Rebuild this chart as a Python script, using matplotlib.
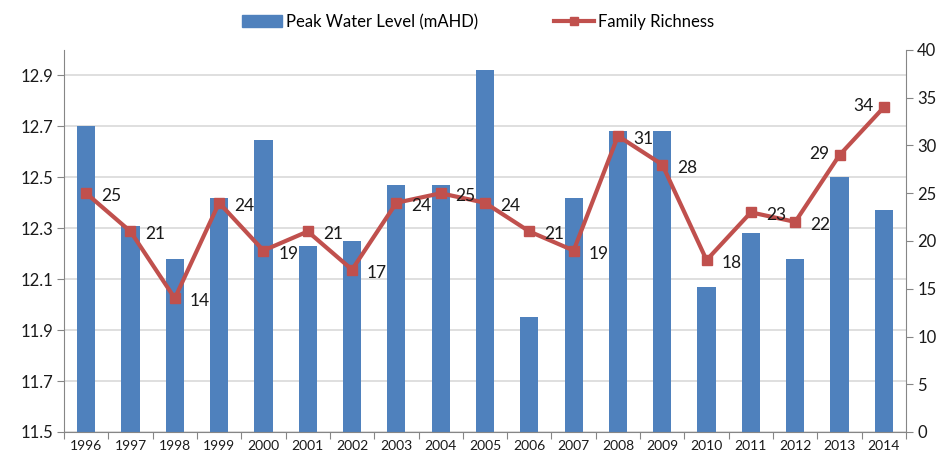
import matplotlib
matplotlib.use("Agg")
import matplotlib.pyplot as plt
from matplotlib.patches import Patch
from matplotlib.lines import Line2D
import numpy as np

years = ["1996", "1997", "1998", "1999", "2000", "2001", "2002", "2003", "2004", "2005",
         "2006", "2007", "2008", "2009", "2010", "2011", "2012", "2013", "2014"]
peak_water_level = [12.70, 12.31, 12.18, 12.42, 12.645, 12.23, 12.25, 12.47, 12.47, 12.92,
                    11.95, 12.42, 12.68, 12.68, 12.07, 12.28, 12.18, 12.50, 12.37]
family_richness = [25, 21, 14, 24, 19, 21, 17, 24, 25, 24, 21, 19, 31, 28, 18, 23, 22, 29, 34]

left_ticks = [11.5, 11.7, 11.9, 12.1, 12.3, 12.5, 12.7, 12.9]
right_ticks = [0, 5, 10, 15, 20, 25, 30, 35, 40]

BLUE = "#4F81BD"
RED = "#C0504D"
GRID = "#D9D9D9"
SPINE = "#868686"
TXT = "#1a1a1a"

plt.rcParams['font.family'] = ['Lato', 'DejaVu Sans']

fig = plt.figure(figsize=(9.44, 4.59), dpi=100)
ax = fig.add_axes([64 / 944, 27 / 459, (906 - 64) / 944, (432 - 50) / 459])
x = np.arange(len(years))

ax.bar(x, peak_water_level, width=0.41, color=BLUE, zorder=2)
ax.set_ylim(11.5, 13.0)
ax.set_xlim(-0.5, len(years) - 0.5)
ax.set_yticks(left_ticks)
ax.set_yticklabels([f"{v:.1f}" for v in left_ticks], fontsize=12, color=TXT)
ax.yaxis.grid(True, color=GRID, linewidth=1.2, zorder=0)
ax.set_axisbelow(True)

# x ticks at category boundaries, labels at centres
ax.set_xticks(np.arange(-0.5, len(years), 1.0))
ax.set_xticklabels([])
ax.set_xticks(x, minor=True)
ax.set_xticklabels(years, minor=True, fontsize=10, color=TXT)
ax.tick_params(axis='x', which='minor', length=0, pad=6)
ax.tick_params(axis='x', which='major', length=5, color=SPINE, direction='out')
ax.tick_params(axis='y', length=5, color=SPINE, direction='out', pad=3)

for s in ['top', 'right']:
    ax.spines[s].set_visible(False)
for s in ['left', 'bottom']:
    ax.spines[s].set_color(SPINE)

ax2 = ax.twinx()
ax2.plot(x, family_richness, color=RED, linewidth=3, marker='s', markersize=7.5,
         markerfacecolor=RED, markeredgecolor=RED, zorder=5)
ax2.set_ylim(0, 40)
ax2.set_yticks(right_ticks)
ax2.set_yticklabels([str(v) for v in right_ticks], fontsize=12, color=TXT)
ax2.tick_params(axis='y', length=5, color=SPINE, direction='out', pad=3)
for s in ['top', 'left', 'bottom']:
    ax2.spines[s].set_visible(False)
ax2.spines['right'].set_color(SPINE)

left_labelled = {"2013", "2014"}
for xi, yr, v in zip(x, years, family_richness):
    if yr in left_labelled:
        ax2.annotate(str(v), (xi, v), xytext=(-10, 1), textcoords='offset pixels',
                     ha='right', va='center', fontsize=12.5, color=TXT, zorder=6)
    else:
        ax2.annotate(str(v), (xi, v), xytext=(15, -3), textcoords='offset pixels',
                     ha='left', va='center', fontsize=12.5, color=TXT, zorder=6)

handles = [Patch(facecolor=BLUE, edgecolor=BLUE),
           Line2D([0], [0], color=RED, linewidth=3, marker='s', markersize=6)]
fig.legend(handles, ["Peak Water Level (mAHD)", "Family Richness"],
           loc='center', bbox_to_anchor=(478 / 944, 1 - 22 / 459), ncol=2,
           frameon=False, fontsize=12, handlelength=2.4, columnspacing=4.6,
           handletextpad=0.2)

fig.savefig("out.png", dpi=100)
